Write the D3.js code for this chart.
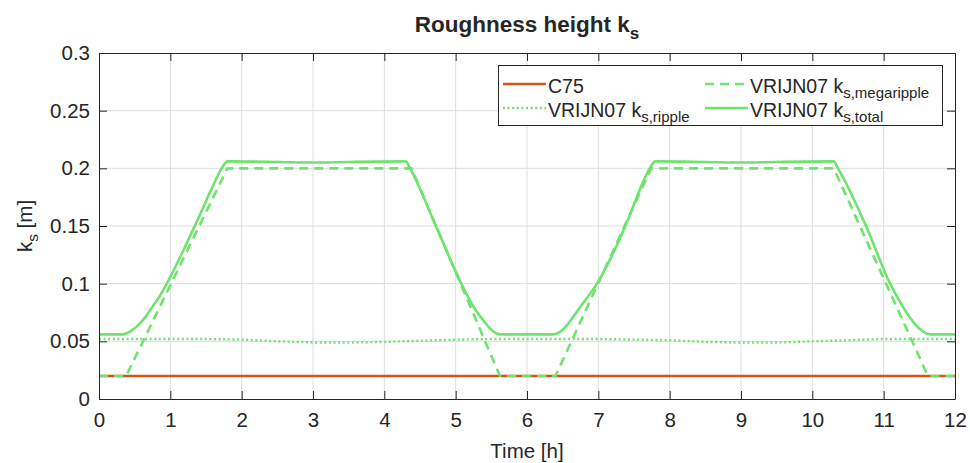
<!DOCTYPE html>
<html>
<head>
<meta charset="utf-8">
<script src="https://cdn.jsdelivr.net/npm/d3@7"></script>
<style>
  body { margin: 0; background: #fff; }
  svg text { font-family: Arial, "Liberation Sans", Helvetica, sans-serif; fill: #262626; }
</style>
</head>
<body>
<div class="roughness-plot"></div>
<script>
// DATA
const xTicks = [0, 1, 2, 3, 4, 5, 6, 7, 8, 9, 10, 11, 12];
const yTicks = [0, 0.05, 0.1, 0.15, 0.2, 0.25, 0.3];

const c75Time = [0, 12];
const c75Val = [0.02, 0.02];

const megaTime = [0, 0.38, 1.8, 4.38, 5.62, 6.4, 7.74, 10.3, 11.62, 12];
const megaVal = [0.02, 0.02, 0.2, 0.2, 0.02, 0.02, 0.2, 0.2, 0.02, 0.02];

const rippleTime = [0, 1, 1.5, 2, 2.5, 3, 3.5, 4, 4.5, 5, 5.5, 6.5, 7, 7.5, 8, 8.5, 9, 9.5, 10, 10.5, 11, 12];
const rippleVal = [0.052, 0.052, 0.052, 0.0515, 0.05, 0.049, 0.049, 0.0495, 0.0505, 0.0515, 0.052, 0.052, 0.052, 0.0515, 0.051, 0.0495, 0.049, 0.049, 0.05, 0.051, 0.052, 0.052];

const totalTime = [0, 0.33, 0.45, 0.55, 0.65, 0.75, 0.85, 0.95, 1.35, 1.6, 1.72, 1.8, 2.5, 3, 3.5, 4.3, 4.36, 4.73, 5.08, 5.25, 5.39, 5.5, 5.62,
                   6.37, 6.5, 6.61, 6.75, 6.98, 7.38, 7.64, 7.72, 7.8, 8.5, 9, 9.5, 10.3, 10.36, 10.76, 11.09, 11.25, 11.4, 11.52, 11.65, 12];
const totalVal = [0.056, 0.056, 0.059, 0.064, 0.071, 0.08, 0.089, 0.1, 0.151, 0.185, 0.2, 0.206, 0.2055, 0.205, 0.2055, 0.206, 0.2, 0.149, 0.1, 0.08, 0.068, 0.06, 0.056,
                  0.056, 0.06, 0.068, 0.08, 0.1, 0.15, 0.19, 0.2, 0.206, 0.2055, 0.205, 0.2055, 0.206, 0.2, 0.149, 0.1, 0.082, 0.068, 0.06, 0.056, 0.056];

const orange = '#d95319';
const green = '#6ee46e';

// CHART INIT
let outerWidth = 970, outerHeight = 463;
let margin = {top: 53, right: 15, bottom: 64, left: 99};
let width = outerWidth - margin.left - margin.right, height = outerHeight - margin.top - margin.bottom;

let root = d3.select('.roughness-plot').append('svg')
    .attr('width', outerWidth)
    .attr('height', outerHeight);
let svg = root.append('g')
    .attr('transform', `translate(${margin.left},${margin.top})`);

const xScale = d3.scaleLinear().domain([0, 12]).range([0, width]);
const yScale = d3.scaleLinear().domain([0, 0.3]).range([height, 0]);

// grid
svg.append('g').selectAll('line').data(xTicks.slice(1, -1)).enter().append('line')
    .attr('x1', d => xScale(d)).attr('x2', d => xScale(d))
    .attr('y1', 0).attr('y2', height)
    .attr('stroke', '#dedede').attr('stroke-width', 1);
svg.append('g').selectAll('line').data(yTicks.slice(1, -1)).enter().append('line')
    .attr('x1', 0).attr('x2', width)
    .attr('y1', d => yScale(d)).attr('y2', d => yScale(d))
    .attr('stroke', '#dedede').attr('stroke-width', 1);

// series
const line = d3.line().x(d => xScale(d[0])).y(d => yScale(d[1]));
const zip = (a, b) => a.map((t, i) => [t, b[i]]);

svg.append('path').datum(zip(c75Time, c75Val))
    .attr('d', line).attr('fill', 'none').attr('stroke', orange).attr('stroke-width', 2.6);
svg.append('path').datum(zip(rippleTime, rippleVal))
    .attr('d', line).attr('fill', 'none').attr('stroke', green).attr('stroke-width', 2.4)
    .attr('stroke-dasharray', '2,2.6');
svg.append('path').datum(zip(megaTime, megaVal))
    .attr('d', line).attr('fill', 'none').attr('stroke', green).attr('stroke-width', 2.6)
    .attr('stroke-dasharray', '9,6');
svg.append('path').datum(zip(totalTime, totalVal))
    .attr('d', d3.line().curve(d3.curveMonotoneX).x(d => xScale(d[0])).y(d => yScale(d[1])))
    .attr('fill', 'none').attr('stroke', green).attr('stroke-width', 2.6);

// axes (box with inward ticks on all sides)
const tickLen = 8;
let xAxis = d3.axisBottom(xScale).tickValues(xTicks).tickSizeInner(-tickLen).tickSizeOuter(0).tickPadding(13);
let yAxis = d3.axisLeft(yScale).tickValues(yTicks).tickSizeInner(-tickLen).tickSizeOuter(0).tickPadding(9).tickFormat(d3.format('~g'));
let xTop = d3.axisTop(xScale).tickValues(xTicks).tickSizeInner(-tickLen).tickSizeOuter(0).tickFormat('');
let yRight = d3.axisRight(yScale).tickValues(yTicks).tickSizeInner(-tickLen).tickSizeOuter(0).tickFormat('');

svg.append('g').attr('class', 'axis x-axis').attr('transform', `translate(0,${height})`).call(xAxis);
svg.append('g').attr('class', 'axis y-axis').call(yAxis);
svg.append('g').attr('class', 'axis').call(xTop);
svg.append('g').attr('class', 'axis').attr('transform', `translate(${width},0)`).call(yRight);

svg.selectAll('.axis path').attr('stroke', '#262626').attr('stroke-width', 1);
svg.selectAll('.axis line').attr('stroke', '#262626').attr('stroke-width', 1);
svg.selectAll('.axis text').attr('font-size', 20.5).attr('fill', '#262626')
    .style('font-family', 'Arial, "Liberation Sans", Helvetica, sans-serif');

// title and axis labels
let title = root.append('text')
    .attr('x', margin.left + width / 2).attr('y', 32)
    .attr('text-anchor', 'middle').attr('font-size', 22.5).attr('font-weight', 'bold');
title.append('tspan').text('Roughness height k');
title.append('tspan').attr('font-size', 17).attr('dy', 7).text('s');

root.append('text')
    .attr('x', margin.left + width / 2).attr('y', 458)
    .attr('text-anchor', 'middle').attr('font-size', 20.5)
    .text('Time [h]');

let yLabel = root.append('text')
    .attr('transform', `translate(32,${margin.top + height / 2}) rotate(-90)`)
    .attr('text-anchor', 'middle').attr('font-size', 20.5);
yLabel.append('tspan').text('k');
yLabel.append('tspan').attr('font-size', 15.5).attr('dy', 6).text('s');
yLabel.append('tspan').attr('dy', -6).text(' [m]');

// legend
let legend = root.append('g');
legend.append('rect')
    .attr('x', 498.5).attr('y', 65.5).attr('width', 444).attr('height', 60)
    .attr('fill', '#fff').attr('stroke', '#262626').attr('stroke-width', 1);

const legendItems = [
  {x: 503, y: 84, dash: null, color: orange, name: 'C75', sub: ''},
  {x: 705, y: 84, dash: '9,6', color: green, name: 'VRIJN07 k', sub: 's,megaripple'},
  {x: 503, y: 108, dash: '2,2.6', color: green, name: 'VRIJN07 k', sub: 's,ripple'},
  {x: 705, y: 108, dash: null, color: green, name: 'VRIJN07 k', sub: 's,total'}
];
legendItems.forEach(item => {
  legend.append('line')
      .attr('x1', item.x).attr('x2', item.x + 43)
      .attr('y1', item.y).attr('y2', item.y)
      .attr('stroke', item.color).attr('stroke-width', 2.6)
      .attr('stroke-dasharray', item.dash);
  let t = legend.append('text')
      .attr('x', item.x + 45).attr('y', item.y + 9)
      .attr('font-size', 19.5);
  t.append('tspan').text(item.name);
  if (item.sub) t.append('tspan').attr('font-size', 15).attr('dy', 5).text(item.sub);
});
</script>
</body>
</html>
